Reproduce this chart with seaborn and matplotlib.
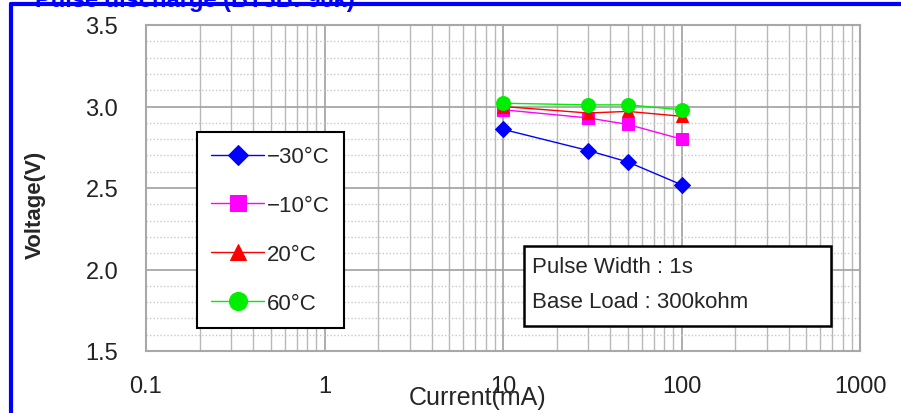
import pandas as pd
import numpy as np
import matplotlib
matplotlib.use("Agg")
import matplotlib.pyplot as plt
import seaborn as sns
from matplotlib.patches import Rectangle
from matplotlib.ticker import FixedLocator, MultipleLocator, NullFormatter

current = [10, 30, 50, 100]
v_m30 = [2.86, 2.73, 2.66, 2.52]
v_m10 = [2.98, 2.93, 2.89, 2.80]
v_20 = [3.00, 2.96, 2.97, 2.94]
v_60 = [3.02, 3.01, 3.01, 2.98]

labels = ["\u221230\u00b0C", "\u221210\u00b0C", "20\u00b0C", "60\u00b0C"]
colors = ["#0000ff", "#ff00ff", "#ff0000", "#00ee00"]
markers = ["D", "s", "^", "o"]
msizes = [8, 9, 9, 10]

xticks = [0.1, 1, 10, 100, 1000]
xtick_labels = ["0.1", "1", "10", "100", "1000"]
yticks = [1.5, 2.0, 2.5, 3.0, 3.5]


def main():
    sns.set_style("white")
    plt.rcParams['font.family'] = ['Liberation Sans', 'DejaVu Sans']

    series = [v_m30, v_m10, v_20, v_60]
    frames = []
    for lab, vals in zip(labels, series):
        frames.append(pd.DataFrame({"Current": current, "Voltage": vals, "Temp": lab}))
    df = pd.concat(frames, ignore_index=True)

    fig = plt.figure(figsize=(9.01, 4.14), dpi=100)
    ax = fig.add_axes([146/901, 1-352/414, 714/901, 326/414])

    for lab, c, m, ms in zip(labels, colors, markers, msizes):
        sub = df[df["Temp"] == lab]
        sns.lineplot(data=sub, x="Current", y="Voltage", ax=ax, color=c, marker=m,
                     markersize=ms, markeredgecolor=c, linewidth=1, label=lab)

    ax.set_xscale("log")
    ax.set_xlim(0.1, 1000)
    ax.set_ylim(1.5, 3.5)
    ax.set_xticks(xticks)
    ax.set_xticklabels(xtick_labels)
    ax.xaxis.set_minor_locator(FixedLocator([m * 10.0**e for e in range(-1, 3) for m in range(2, 10)]))
    ax.xaxis.set_minor_formatter(NullFormatter())
    ax.set_yticks(yticks)
    ax.set_yticklabels(["%.1f" % v for v in yticks])
    ax.yaxis.set_minor_locator(MultipleLocator(0.1))

    ax.grid(which="major", axis="both", color="#a0a0a0", linewidth=1.2, linestyle="-")
    ax.grid(which="minor", axis="x", color="#b8b8b8", linewidth=1.0, linestyle="-")
    ax.grid(which="minor", axis="y", color="#c8c8c8", linewidth=1.0, linestyle=(0, (1, 1.5)))
    ax.set_axisbelow(True)
    for s in ax.spines.values():
        s.set_color("#a8a8a8")
        s.set_linewidth(1.5)
    ax.tick_params(which="both", length=0)
    ax.tick_params(axis="y", labelsize=17, pad=20, colors="#222222")
    ax.tick_params(axis="x", labelsize=17, pad=17, colors="#222222")

    ax.set_xlabel("Current(mA)", fontsize=18)
    ax.xaxis.set_label_coords(0.465, -0.105)
    ax.set_ylabel("Voltage(V)", fontsize=16, fontweight="bold")
    ax.yaxis.set_label_coords(-0.14, 0.45)

    leg = ax.legend(loc="upper left", bbox_to_anchor=(0.071, 0.672), borderaxespad=0,
                    fontsize=16, numpoints=1, handlelength=2.4, handletextpad=0.1,
                    labelspacing=1.25, borderpad=0.65, markerscale=1.3,
                    fancybox=False, framealpha=1)
    leg.get_frame().set_edgecolor("black")
    leg.get_frame().set_linewidth(1.5)

    ax.add_patch(Rectangle((0.529, 0.077), 0.431, 0.245, transform=ax.transAxes,
                           facecolor="white", edgecolor="black", linewidth=1.8, zorder=5))
    ax.text(0.541, 0.258, "Pulse Width : 1s", transform=ax.transAxes, fontsize=16,
            va="center", ha="left", zorder=6)
    ax.text(0.541, 0.153, "Base Load : 300kohm", transform=ax.transAxes, fontsize=16,
            va="center", ha="left", zorder=6)

    # blue frame and clipped title
    fig.add_artist(plt.Line2D([11/901, 11/901], [0, 1-5/414], color="#0000ff", linewidth=3,
                              transform=fig.transFigure))
    fig.add_artist(plt.Line2D([11/901, 1], [1-5/414, 1-5/414], color="#0000ff", linewidth=3,
                              transform=fig.transFigure))
    fig.text(35/901, 1.0, "Pulse discharge (BT3B: 90k)", color="#0000ff", fontsize=17,
             fontweight="bold", va="center", ha="left")

    fig.savefig("out.png", dpi=100)


if __name__ == "__main__":
    main()
